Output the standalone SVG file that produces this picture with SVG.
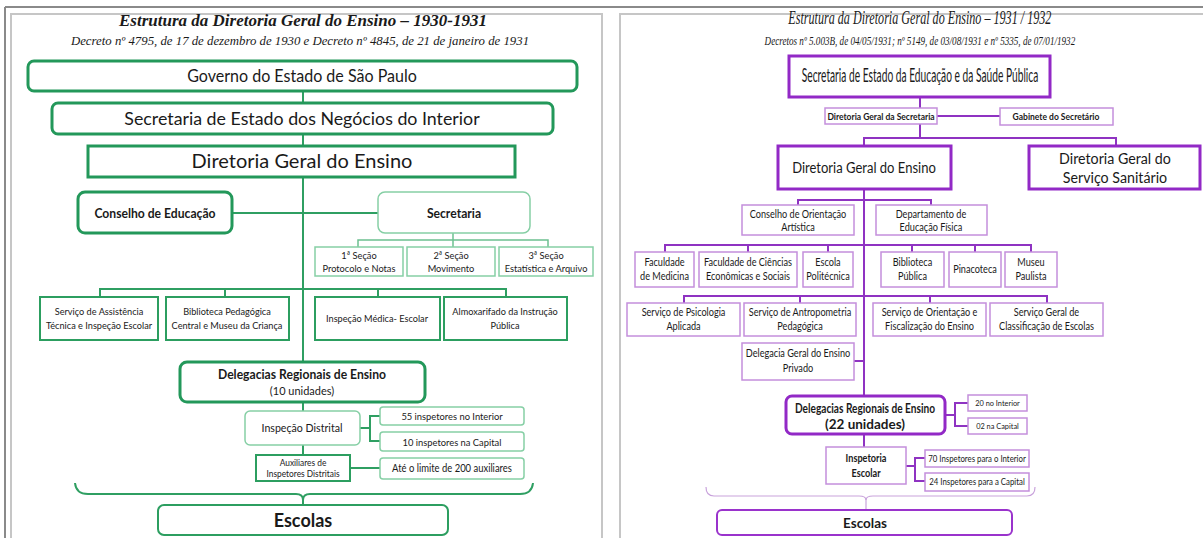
<svg xmlns="http://www.w3.org/2000/svg" width="1203" height="538" viewBox="0 0 1203 538">
  <style>
    text { font-family: Lato, "Open Sans", "Liberation Sans", sans-serif; fill: #1a1a1a; text-anchor: middle; }
    .ttl { font-family: "Liberation Serif", serif; font-style: italic; }
    .b { font-weight: bold; }
    /* horizontal condensing of labels, centred on each label */
    .sl, .sq, .k55, .k67, .k70, .k75, .k81, .k89, .k94 { transform-box: fill-box; transform-origin: center; }
    .sl { transform: scaleX(0.9); }
    .sq { transform: scaleX(0.87); }
    .k55 { transform: scaleX(0.552); }
    .k67 { transform: scaleX(0.674); }
    .k70 { transform: scaleX(0.70); }
    .k75 { transform: scaleX(0.75); }
    .k81 { transform: scaleX(0.814); }
    .k89 { transform: scaleX(0.89); }
    .k94 { transform: scaleX(0.945); }
    .frame-o { stroke: #8a8a8a; stroke-width: 2; fill: none; }
    .frame-i { stroke: #c6c6c6; stroke-width: 2; fill: none; }
    .g-main { fill: #fff; stroke: #23985a; stroke-width: 3; }
    .g-mid { fill: #fff; stroke: #2c9e60; stroke-width: 2; }
    .g-lite { fill: #fff; stroke: #86cfa5; stroke-width: 1.5; }
    .g-line { stroke: #2f9f62; stroke-width: 2; fill: none; }
    .g-thin { stroke: #6cc090; stroke-width: 1.5; fill: none; }
    .p-main { fill: #fff; stroke: #9229c6; stroke-width: 3; }
    .p-mid { fill: #fff; stroke: #9a33cc; stroke-width: 2; }
    .p-lite { fill: #fff; stroke: #c48fdc; stroke-width: 1.5; }
    .p-line { stroke: #8f33c2; stroke-width: 2; fill: none; }
    .p-thin { stroke: #c9a3dc; stroke-width: 1.2; fill: none; }
  </style>

  <!-- page frames -->
  <g id="frames">
    <line class="frame-o" x1="5" y1="7" x2="1203" y2="7"/>
    <line class="frame-o" x1="5" y1="7" x2="5" y2="538"/>
    <polyline class="frame-i" points="11,538 11,14 602,14 602,538"/>
    <polyline class="frame-i" points="620,538 620,14 1203,14"/>
  </g>

  <!-- ===== left chart: 1930-1931 ===== -->
  <g id="left-titles">
    <text class="ttl b" x="303" y="26" font-size="17">Estrutura da Diretoria Geral do Ensino – 1930-1931</text>
    <text class="ttl" x="300" y="45" font-size="12.8">Decreto nº 4795,  de 17 de dezembro de 1930 e Decreto nº 4845, de 21 de janeiro de 1931</text>
  </g>

  <g id="left-connectors">
    <line class="g-line" x1="303" y1="91" x2="303" y2="103"/>
    <line class="g-line" x1="303" y1="134" x2="303" y2="146"/>
    <line class="g-line" x1="303" y1="177" x2="303" y2="362"/>
    <line class="g-line" x1="232" y1="213" x2="378" y2="213"/>
    <line class="g-thin" x1="453" y1="233" x2="453" y2="247"/>
    <polyline class="g-thin" points="358,247 358,240 548,240 548,247"/>
    <polyline class="g-line" points="100,297 100,289 506,289 506,297"/>
    <line class="g-line" x1="225" y1="289" x2="225" y2="297"/>
    <line class="g-line" x1="378" y1="289" x2="378" y2="297"/>
    <line class="g-line" x1="303" y1="402" x2="303" y2="411"/>
    <line class="g-line" x1="360" y1="428" x2="370" y2="428"/>
    <polyline class="g-line" points="380,416 370,416 370,441 380,441"/>
    <line class="g-line" x1="303" y1="445" x2="303" y2="455"/>
    <line class="g-line" x1="350" y1="468" x2="380" y2="468"/>
    <path class="g-line" d="M75,483 Q76,494 88,494 H296 Q303,494 303,500 Q303,494 310,494 H520 Q532,494 533,483"/>
    <line class="g-line" x1="303" y1="498" x2="303" y2="505"/>
  </g>

  <g id="l-governo">
    <rect class="g-main" x="28" y="61" width="549" height="30" rx="6"/>
    <text class="k94" x="302" y="82" font-size="17">Governo do Estado de São Paulo</text>
  </g>
  <g id="l-secretaria-interior">
    <rect class="g-main" x="52" y="103" width="501" height="31" rx="6"/>
    <text x="302" y="125" font-size="17.8">Secretaria de Estado dos Negócios do Interior</text>
  </g>
  <g id="l-diretoria">
    <rect class="g-main" x="88" y="146" width="427" height="31"/>
    <text x="302" y="168" font-size="20">Diretoria Geral do Ensino</text>
  </g>
  <g id="l-conselho">
    <rect class="g-main" x="78" y="192" width="154" height="41" rx="7" stroke-width="2.5"/>
    <text class="b sl" x="155" y="218" font-size="13.5">Conselho de Educação</text>
  </g>
  <g id="l-secretaria">
    <rect class="g-lite" x="378" y="192" width="152" height="41" rx="7"/>
    <text class="b sl" x="454" y="218" font-size="13.5">Secretaria</text>
  </g>
  <g id="l-secao1">
    <rect class="g-lite" x="315" y="247" width="88" height="29"/>
    <text class="sl" x="359" y="259" font-size="10.3">1ª Seção</text>
    <text class="sl" x="359" y="272" font-size="10.3">Protocolo e Notas</text>
  </g>
  <g id="l-secao2">
    <rect class="g-lite" x="407" y="247" width="88" height="29"/>
    <text class="sl" x="451" y="259" font-size="10.3">2ª Seção</text>
    <text class="sl" x="451" y="272" font-size="10.3">Movimento</text>
  </g>
  <g id="l-secao3">
    <rect class="g-lite" x="499" y="247" width="94" height="29"/>
    <text class="sl" x="546" y="259" font-size="10.3">3ª Seção</text>
    <text class="sl" x="546" y="272" font-size="10.3">Estatística e Arquivo</text>
  </g>
  <g id="l-servico-assistencia">
    <rect class="g-mid" x="40" y="297" width="118" height="43"/>
    <text class="sl" x="99" y="315" font-size="10.2">Serviço de Assistência</text>
    <text class="sl" x="99" y="329" font-size="10.2">Técnica e Inspeção Escolar</text>
  </g>
  <g id="l-biblioteca">
    <rect class="g-mid" x="166" y="297" width="123" height="43"/>
    <text class="sl" x="227" y="315" font-size="10.2">Biblioteca Pedagógica</text>
    <text class="sl" x="227" y="329" font-size="10.2">Central e Museu da Criança</text>
  </g>
  <g id="l-inspecao-medica">
    <rect class="g-mid" x="315" y="297" width="125" height="43"/>
    <text class="sl" x="377" y="322" font-size="10.2">Inspeção Médica- Escolar</text>
  </g>
  <g id="l-almoxarifado">
    <rect class="g-mid" x="444" y="297" width="123" height="43"/>
    <text class="sl" x="505" y="315" font-size="10.2">Almoxarifado da Instrução</text>
    <text class="sl" x="505" y="329" font-size="10.2">Pública</text>
  </g>
  <g id="l-delegacias">
    <rect class="g-main" x="180" y="362" width="245" height="40" rx="7"/>
    <text class="b sl" x="302" y="379" font-size="13.5">Delegacias Regionais de Ensino</text>
    <text class="sl" x="302" y="395" font-size="12.2">(10 unidades)</text>
  </g>
  <g id="l-inspecao-distrital">
    <rect class="g-lite" x="245" y="411" width="115" height="34" rx="5"/>
    <text class="sl" x="302" y="432" font-size="11.8">Inspeção Distrital</text>
  </g>
  <g id="l-insp-interior">
    <rect class="g-lite" x="380" y="407" width="144" height="18" rx="3"/>
    <text class="sl" x="452" y="420" font-size="10.4">55 inspetores no Interior</text>
  </g>
  <g id="l-insp-capital">
    <rect class="g-lite" x="380" y="432" width="144" height="19" rx="3"/>
    <text class="sl" x="452" y="446" font-size="10.4">10 inspetores  na Capital</text>
  </g>
  <g id="l-auxiliares">
    <rect class="g-mid" x="256" y="455" width="94" height="26" stroke-width="1.5"/>
    <text class="sl" x="303" y="466" font-size="9.3">Auxiliares de</text>
    <text class="sl" x="303" y="477" font-size="9.3">Inspetores Distritais</text>
  </g>
  <g id="l-limite">
    <rect class="g-lite" x="380" y="458" width="144" height="21" rx="3"/>
    <text class="sl" x="452" y="472" font-size="10.5">Até o limite de 200 auxiliares</text>
  </g>
  <g id="l-escolas">
    <rect class="g-mid" x="158" y="505" width="290" height="30" rx="6"/>
    <text class="b" x="303" y="527" font-size="18">Escolas</text>
  </g>

  <!-- ===== right chart: 1931/1932 ===== -->
  <g id="right-titles">
    <text class="ttl k67" x="920" y="24" font-size="18">Estrutura da Diretoria Geral do Ensino – 1931 / 1932</text>
    <text class="ttl k70" x="920" y="45" font-size="13">Decretos nº 5.003B, de 04/05/1931; nº 5149, de 03/08/1931 e nº 5335, de 07/01/1932</text>
  </g>

  <g id="right-connectors">
    <line class="p-line" x1="920" y1="97" x2="920" y2="138"/>
    <line class="p-line" x1="937" y1="116" x2="1000" y2="116"/>
    <polyline class="p-line" points="864,146 864,138 1116,138 1116,146"/>
    <line class="p-line" x1="864" y1="189" x2="864" y2="396"/>
    <polyline class="p-line" points="798,205 798,200 931,200 931,205"/>
    <polyline class="p-line" points="665,252 665,245 1031,245 1031,252"/>
    <line class="p-line" x1="748" y1="245" x2="748" y2="252"/>
    <line class="p-line" x1="828" y1="245" x2="828" y2="252"/>
    <line class="p-line" x1="912" y1="245" x2="912" y2="252"/>
    <line class="p-line" x1="975" y1="245" x2="975" y2="252"/>
    <polyline class="p-line" points="684,303 684,296 1047,296 1047,303"/>
    <line class="p-line" x1="800" y1="296" x2="800" y2="303"/>
    <line class="p-line" x1="930" y1="296" x2="930" y2="303"/>
    <line class="p-line" x1="854" y1="361" x2="864" y2="361"/>
    <line class="p-line" x1="945" y1="415" x2="955" y2="415"/>
    <polyline class="p-line" points="968,403 955,403 955,426 968,426"/>
    <line class="p-line" x1="864" y1="434" x2="864" y2="447"/>
    <line class="p-line" x1="906" y1="466" x2="915" y2="466"/>
    <polyline class="p-line" points="925,458 915,458 915,481 925,481"/>
    <path class="p-thin" d="M706,487 Q706,496 714,496 H859 Q866,496 866,500 Q866,496 873,496 H1027 Q1035,496 1035,487"/>
    <line class="p-thin" x1="866" y1="498" x2="866" y2="510"/>
  </g>

  <g id="r-secretaria">
    <rect class="p-main" x="789" y="56" width="261" height="41"/>
    <text class="k55" x="920" y="82" font-size="18.5">Secretaria de Estado da Educação e da Saúde Pública</text>
  </g>
  <g id="r-dir-secretaria">
    <rect class="p-lite" x="825" y="108" width="112" height="16"/>
    <text class="b" x="881" y="119.5" font-size="8.5">Diretoria Geral da Secretaria</text>
  </g>
  <g id="r-gabinete">
    <rect class="p-lite" x="1000" y="108" width="113" height="17"/>
    <text class="b" x="1056" y="120" font-size="8.5">Gabinete do Secretário</text>
  </g>
  <g id="r-diretoria-ensino">
    <rect class="p-main" x="778" y="146" width="173" height="43"/>
    <text class="k81" x="864" y="173" font-size="16">Diretoria Geral do Ensino</text>
  </g>
  <g id="r-diretoria-sanitario">
    <rect class="p-main" x="1029" y="146" width="171" height="43"/>
    <text class="k89" x="1115" y="164" font-size="16">Diretoria Geral do</text>
    <text class="k89" x="1115" y="183" font-size="16">Serviço Sanitário</text>
  </g>
  <g id="r-conselho">
    <rect class="p-lite" x="742" y="205" width="112" height="30"/>
    <text class="sq" x="798" y="218" font-size="10.5">Conselho de Orientação</text>
    <text class="sq" x="798" y="231" font-size="10.5">Artística</text>
  </g>
  <g id="r-educacao-fisica">
    <rect class="p-lite" x="876" y="205" width="111" height="30"/>
    <text class="sq" x="931" y="218" font-size="10.5">Departamento de</text>
    <text class="sq" x="931" y="231" font-size="10.5">Educação Física</text>
  </g>
  <g id="r-medicina">
    <rect class="p-lite" x="635" y="252" width="59" height="35"/>
    <text class="sq" x="664.5" y="266" font-size="10.5">Faculdade</text>
    <text class="sq" x="664.5" y="280" font-size="10.5">de Medicina</text>
  </g>
  <g id="r-ciencias">
    <rect class="p-lite" x="699" y="252" width="98" height="35"/>
    <text class="sq" x="748" y="266" font-size="10.5">Faculdade de Ciências</text>
    <text class="sq" x="748" y="280" font-size="10.5">Econômicas e Sociais</text>
  </g>
  <g id="r-politecnica">
    <rect class="p-lite" x="803" y="252" width="50" height="35"/>
    <text class="sq" x="828" y="266" font-size="10.5">Escola</text>
    <text class="sq" x="828" y="280" font-size="10.5">Politécnica</text>
  </g>
  <g id="r-biblioteca">
    <rect class="p-lite" x="881" y="252" width="63" height="35"/>
    <text class="sq" x="912.5" y="266" font-size="10.5">Biblioteca</text>
    <text class="sq" x="912.5" y="280" font-size="10.5">Pública</text>
  </g>
  <g id="r-pinacoteca">
    <rect class="p-lite" x="949" y="252" width="52" height="35"/>
    <text class="sq" x="975" y="273" font-size="10.5">Pinacoteca</text>
  </g>
  <g id="r-museu">
    <rect class="p-lite" x="1005" y="252" width="52" height="35"/>
    <text class="sq" x="1031" y="266" font-size="10.5">Museu</text>
    <text class="sq" x="1031" y="280" font-size="10.5">Paulista</text>
  </g>
  <g id="r-psicologia">
    <rect class="p-lite" x="627" y="303" width="113" height="33"/>
    <text class="sq" x="683.5" y="316" font-size="10.5">Serviço de Psicologia</text>
    <text class="sq" x="683.5" y="330" font-size="10.5">Aplicada</text>
  </g>
  <g id="r-antropometria">
    <rect class="p-lite" x="744" y="303" width="112" height="33"/>
    <text class="sq" x="800" y="316" font-size="10.5">Serviço de Antropometria</text>
    <text class="sq" x="800" y="330" font-size="10.5">Pedagógica</text>
  </g>
  <g id="r-orientacao">
    <rect class="p-lite" x="873" y="303" width="113" height="33"/>
    <text class="sq" x="929.5" y="316" font-size="10.5">Serviço de Orientação e</text>
    <text class="sq" x="929.5" y="330" font-size="10.5">Fiscalização do Ensino</text>
  </g>
  <g id="r-classificacao">
    <rect class="p-lite" x="990" y="303" width="113" height="33"/>
    <text class="sq" x="1046.5" y="316" font-size="10.5">Serviço Geral de</text>
    <text class="sq" x="1046.5" y="330" font-size="10.5">Classificação de Escolas</text>
  </g>
  <g id="r-ensino-privado">
    <rect class="p-lite" x="742" y="343" width="112" height="37"/>
    <text class="sq" x="798" y="357" font-size="10.5">Delegacia Geral do Ensino</text>
    <text class="sq" x="798" y="372" font-size="10.5">Privado</text>
  </g>
  <g id="r-delegacias">
    <rect class="p-main" x="786" y="396" width="159" height="38" rx="6"/>
    <text class="b k75" x="865" y="413" font-size="13.5">Delegacias Regionais de Ensino</text>
    <text class="b" x="865" y="429" font-size="13.5">(22 unidades)</text>
  </g>
  <g id="r-del-interior">
    <rect class="p-lite" x="968" y="395" width="59" height="16"/>
    <text class="sq" x="997.5" y="406.5" font-size="8.5">20 no Interior</text>
  </g>
  <g id="r-del-capital">
    <rect class="p-lite" x="968" y="418" width="59" height="16"/>
    <text class="sq" x="997.5" y="429.5" font-size="8.5">02 na Capital</text>
  </g>
  <g id="r-inspetoria">
    <rect class="p-lite" x="826" y="447" width="80" height="37"/>
    <text class="b sq" x="866" y="462" font-size="10.5">Inspetoria</text>
    <text class="b sq" x="866" y="477" font-size="10.5">Escolar</text>
  </g>
  <g id="r-insp-interior">
    <rect class="p-lite" x="925" y="450" width="104" height="17"/>
    <text class="sq" x="977" y="462" font-size="9">70 Inspetores para o Interior</text>
  </g>
  <g id="r-insp-capital">
    <rect class="p-lite" x="925" y="473" width="104" height="18"/>
    <text class="sq" x="977" y="485.5" font-size="9">24 Inspetores para a Capital</text>
  </g>
  <g id="r-escolas">
    <rect class="p-mid" x="717" y="510" width="295" height="25" rx="5"/>
    <text class="b" x="865" y="528" font-size="13.5">Escolas</text>
  </g>
</svg>
